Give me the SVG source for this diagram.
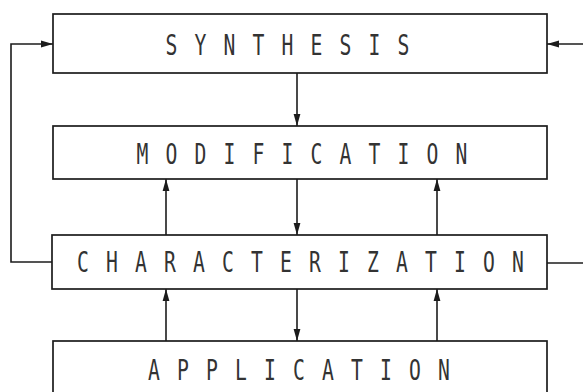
<svg xmlns="http://www.w3.org/2000/svg" width="583" height="392" viewBox="0 0 583 392">
  <style>
    .box { fill: #ffffff; stroke: #1c1c1c; stroke-width: 1.7; }
    .lbl { font-family: "DejaVu Sans Mono", "Liberation Mono", monospace; font-size: 29px; fill: #333333; text-anchor: middle; }
    .wire { fill: none; stroke: #1c1c1c; stroke-width: 1.6; }
    .arr { marker-end: url(#head); }
  </style>
  <defs>
    <marker id="head" markerUnits="userSpaceOnUse" markerWidth="13" markerHeight="8" refX="12" refY="4" orient="auto">
      <path d="M0,0.6 L12,4 L0,7.4 Z" fill="#1c1c1c"/>
    </marker>
  </defs>
  <rect width="583" height="392" fill="#ffffff"/>

  <!-- connectors -->
  <g id="connectors">
    <!-- feedback loops into synthesis -->
    <path class="wire arr" d="M52,262 H11 V44 H53"/>
    <path class="wire" d="M547,263 H583"/>
    <path class="wire arr" d="M583,44 H547"/>
    <!-- downward flow -->
    <path class="wire arr" d="M297,73 V126"/>
    <path class="wire arr" d="M297,179 V235"/>
    <path class="wire arr" d="M297,289 V341"/>
    <!-- upward flow -->
    <path class="wire arr" d="M166,235 V179"/>
    <path class="wire arr" d="M437,235 V179"/>
    <path class="wire arr" d="M166,341 V289"/>
    <path class="wire arr" d="M437,341 V289"/>
  </g>

  <g id="synthesis">
    <rect class="box" x="53" y="14" width="494" height="59"/>
    <text class="lbl" transform="translate(287.5,55) scale(0.68,1)" x="-170.59 -127.94 -85.29 -42.65 0 42.65 85.29 127.94 170.59" y="0">SYNTHESIS</text>
  </g>

  <g id="modification">
    <rect class="box" x="53" y="126" width="494" height="53"/>
    <text class="lbl" transform="translate(302,164) scale(0.68,1)" x="-234.56 -191.91 -149.26 -106.62 -63.97 -21.32 21.32 63.97 106.62 149.26 191.91 234.56" y="0">MODIFICATION</text>
  </g>

  <g id="characterization">
    <rect class="box" x="52" y="235" width="495" height="54"/>
    <text class="lbl" transform="translate(300.5,272) scale(0.68,1)" x="-319.85 -277.21 -234.56 -191.91 -149.26 -106.62 -63.97 -21.32 21.32 63.97 106.62 149.26 191.91 234.56 277.21 319.85" y="0">CHARACTERIZATION</text>
  </g>

  <g id="application">
    <rect class="box" x="53" y="341" width="494" height="62"/>
    <text class="lbl" transform="translate(299,379.5) scale(0.68,1)" x="-213.24 -170.59 -127.94 -85.29 -42.65 0 42.65 85.29 127.94 170.59 213.24" y="0">APPLICATION</text>
  </g>
</svg>
